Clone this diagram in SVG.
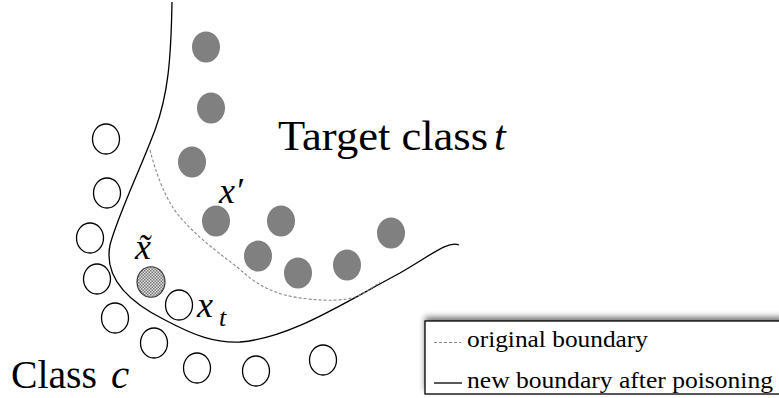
<svg xmlns="http://www.w3.org/2000/svg" width="779" height="398" viewBox="0 0 779 398">
<style>
.t{fill:#808080;stroke:none}
.c{fill:#fff;stroke:#000;stroke-width:1.3}
.lbl{font-family:"Liberation Serif","Times New Roman",serif;fill:#000}
.it{font-style:italic}
.solid{fill:none;stroke:#000;stroke-width:1.3}
.dash{fill:none;stroke:#888;stroke-width:1.1;stroke-dasharray:3,2}
</style>
<defs>
<pattern id="chk" width="3" height="3" patternUnits="userSpaceOnUse">
<rect width="3" height="3" fill="#e0e0e0"/>
<rect width="1.5" height="1.5" fill="#777"/>
<rect x="1.5" y="1.5" width="1.5" height="1.5" fill="#777"/>
</pattern>
<filter id="sh" x="-5%" y="-30%" width="110%" height="160%">
<feGaussianBlur stdDeviation="3"/>
</filter>
</defs>
<g id="connectors">
<path id="new-boundary" class="solid" d="M172,2 C171,60 168,95 155,130 C140,170 118,215 110,245 C104,275 125,300 165,320 C195,336 215,343 240,342 C290,338 340,305 400,273 C430,256 448,240 459,245"/>
<path id="original-boundary" class="dash" d="M150,150 C155,170 165,200 180,217 C195,235 215,250 237,267 C250,278 260,288 285,295 C310,301 340,302 355,297 C365,293 372,288 380,282"/>
</g>
<g id="target-points">
<ellipse class="t" cx="206" cy="47" rx="14" ry="15.5"/>
<ellipse class="t" cx="211" cy="108" rx="14" ry="15.5"/>
<ellipse class="t" cx="192" cy="162" rx="14" ry="15.5"/>
<ellipse class="t" cx="216" cy="221" rx="14" ry="15.5"/>
<ellipse class="t" cx="281" cy="221" rx="14" ry="15.5"/>
<ellipse class="t" cx="258" cy="256" rx="14" ry="15.5"/>
<ellipse class="t" cx="298" cy="273" rx="14" ry="15.5"/>
<ellipse class="t" cx="347" cy="265" rx="14" ry="15.5"/>
<ellipse class="t" cx="391" cy="233" rx="14" ry="15.5"/>
</g>
<g id="class-c-points">
<ellipse class="c" cx="106" cy="139" rx="13.5" ry="15"/>
<ellipse class="c" cx="107" cy="193" rx="13.5" ry="15"/>
<ellipse class="c" cx="90" cy="238" rx="13.5" ry="15"/>
<ellipse class="c" cx="97" cy="279" rx="13.5" ry="15"/>
<ellipse class="c" cx="115" cy="318" rx="13.5" ry="15"/>
<ellipse class="c" cx="154" cy="343" rx="13.5" ry="15"/>
<ellipse class="c" cx="197" cy="368" rx="13.5" ry="15"/>
<ellipse class="c" cx="256" cy="371" rx="13.5" ry="15"/>
<ellipse class="c" cx="323" cy="360" rx="13.5" ry="15"/>
</g>
<g id="xt">
<ellipse class="c" cx="179" cy="305" rx="13.5" ry="15"/>
<text class="lbl it" x="197" y="317" font-size="36">x</text>
<text class="lbl it" x="219" y="326" font-size="26">t</text>
</g>
<g id="xtilde">
<ellipse cx="151" cy="282" rx="14" ry="15.3" fill="url(#chk)" stroke="#333" stroke-width="1.1"/>
<text class="lbl it" x="135" y="259" font-size="36">x̃</text>
</g>
<g id="xprime">
<text class="lbl it" x="219" y="203" font-size="36">x′</text>
</g>
<g id="target-label">
<text class="lbl" x="278" y="150" font-size="42" textLength="210" lengthAdjust="spacingAndGlyphs">Target class</text>
<text class="lbl it" x="494" y="150" font-size="42">t</text>
</g>
<g id="class-label">
<text class="lbl" x="11" y="388" font-size="41" textLength="86" lengthAdjust="spacingAndGlyphs">Class</text>
<text class="lbl it" x="111" y="388" font-size="41">c</text>
</g>
<g id="legend">
<rect x="425" y="321" width="360" height="73" fill="#000" opacity="0.55" filter="url(#sh)" transform="translate(0,-4)"/>
<rect x="425" y="321" width="360" height="73" fill="#fff" stroke="#000" stroke-width="1.3"/>
<line class="dash" x1="434" y1="342.5" x2="461" y2="342.5" stroke="#444"/>
<line class="solid" x1="434" y1="383" x2="462" y2="383"/>
<text class="lbl" x="467" y="347" font-size="23" textLength="181" lengthAdjust="spacingAndGlyphs">original boundary</text>
<text class="lbl" x="467" y="388" font-size="23" textLength="306" lengthAdjust="spacingAndGlyphs">new boundary after poisoning</text>
</g>
</svg>
